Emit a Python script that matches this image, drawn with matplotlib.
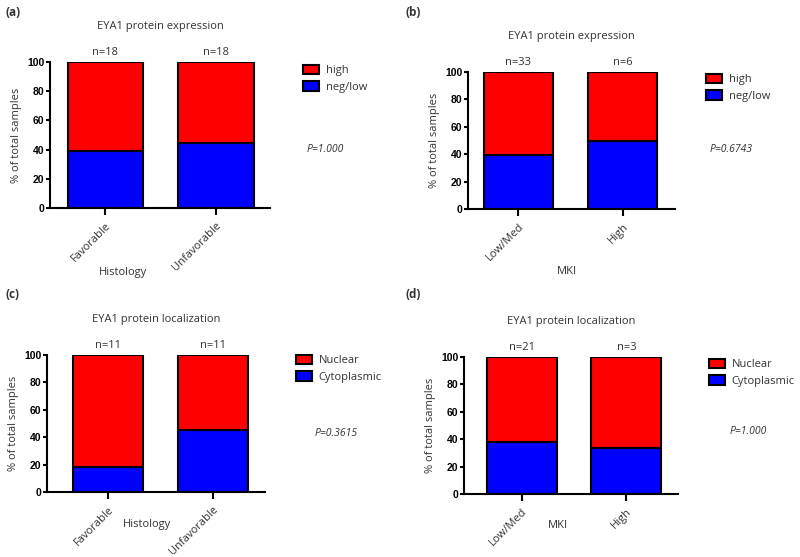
import matplotlib.pyplot as plt
from matplotlib.patches import Patch

W, H = 800, 557

# data (percent of total samples)
groups_hist = ['Favorable', 'Unfavorable']
groups_mki = ['Low/Med', 'High']

expr_hist_low = [38.9, 44.4]
expr_hist_high = [61.1, 55.6]
expr_hist_n = ['n=18', 'n=18']

expr_mki_low = [39.4, 50.0]
expr_mki_high = [60.6, 50.0]
expr_mki_n = ['n=33', 'n=6']

loc_hist_cyto = [18.2, 45.5]
loc_hist_nuc = [81.8, 54.5]
loc_hist_n = ['n=11', 'n=11']

loc_mki_cyto = [38.1, 33.3]
loc_mki_nuc = [61.9, 66.7]
loc_mki_n = ['n=21', 'n=3']

RED = '#ff0000'
BLUE = '#0000ff'
TXT = '#333333'
FONT = 'Open Sans'

fig = plt.figure(figsize=(W / 100, H / 100), dpi=100)


def px(x, y):
    return x / W, 1 - y / H


def panel(box, xlim, width, cats, low, high, nlab, title, xlab, xlab_pos,
          leg_labels, leg_pos, ptext, p_pos, tag, tag_pos):
    x0, y0, x1, y1 = box
    ax = fig.add_axes([x0 / W, 1 - y1 / H, (x1 - x0) / W, (y1 - y0) / H])
    xs = list(range(len(cats)))
    ax.bar(xs, low, width, color=BLUE, edgecolor='black', linewidth=1.5)
    ax.bar(xs, high, width, bottom=low, color=RED, edgecolor='black', linewidth=1.5)
    ax.set_xlim(*xlim)
    ax.set_ylim(0, 100)
    ax.set_yticks([0, 20, 40, 60, 80, 100])
    for s in ['top', 'right']:
        ax.spines[s].set_visible(False)
    for s in ['left', 'bottom']:
        ax.spines[s].set_linewidth(1.5)
    ax.set_xticks(xs)
    ax.set_xticklabels(cats, rotation=45, ha='right', rotation_mode='anchor',
                       fontsize=8, color=TXT, family=FONT)
    ax.tick_params(axis='x', length=5, width=1.5, pad=4)
    ax.tick_params(axis='y', length=3, width=1.5, pad=1, labelsize=7.5)
    for lb in ax.get_yticklabels():
        lb.set_fontweight('bold')
        lb.set_family('Liberation Sans')
    ax.set_ylabel('% of total samples', fontsize=8, color=TXT, family=FONT, labelpad=4)
    for i, t in enumerate(nlab):
        ax.annotate(t, (xs[i], 100), xytext=(0, 3), textcoords='offset points',
                    ha='center', va='bottom', fontsize=8, color=TXT, family=FONT)
    ax.set_title(title, fontsize=8, color=TXT, family=FONT, pad=24)
    fig.text(*px(*xlab_pos), xlab, ha='center', va='center', fontsize=8,
             color=TXT, family=FONT)
    handles = [Patch(facecolor=RED, edgecolor='black', linewidth=1.5),
               Patch(facecolor=BLUE, edgecolor='black', linewidth=1.5)]
    fig.legend(handles, leg_labels, loc='upper left', bbox_to_anchor=px(*leg_pos),
               frameon=False, handlelength=1.45, handleheight=0.9,
               handletextpad=0.6, labelspacing=0.45, borderaxespad=0, borderpad=0,
               labelcolor=TXT, prop={'family': FONT, 'size': 8})
    fig.text(*px(*p_pos), ptext, ha='left', va='center', fontsize=7.5,
             style='italic', color=TXT, family=FONT)
    fig.text(*px(*tag_pos), tag, ha='left', va='center', fontsize=8.5,
             fontweight='bold', color=TXT, family=FONT)


panel((50, 62, 270, 208), (-0.502, 1.489), 0.68, groups_hist,
      expr_hist_low, expr_hist_high, expr_hist_n, 'EYA1 protein expression',
      'Histology', (123, 272), ['high', 'neg/low'], (303, 65),
      'P=1.000', (307, 150), '(a)', (6, 13))

panel((468, 72, 675, 209), (-0.483, 1.498), 0.66, groups_mki,
      expr_mki_low, expr_mki_high, expr_mki_n, 'EYA1 protein expression',
      'MKI', (567, 272), ['high', 'neg/low'], (706, 74),
      'P=0.6743', (710, 150), '(b)', (406, 13))

panel((47, 355, 265, 492), (-0.58, 1.50), 0.667, groups_hist,
      loc_hist_cyto, loc_hist_nuc, loc_hist_n, 'EYA1 protein localization',
      'Histology', (147, 525), ['Nuclear', 'Cytoplasmic'], (296, 355),
      'P=0.3615', (315, 433), '(c)', (6, 295))

panel((464, 357, 678, 494), (-0.555, 1.493), 0.67, groups_mki,
      loc_mki_cyto, loc_mki_nuc, loc_mki_n, 'EYA1 protein localization',
      'MKI', (558, 525), ['Nuclear', 'Cytoplasmic'], (709, 359),
      'P=1.000', (730, 432), '(d)', (406, 295))

plt.savefig('out.png', dpi=100)
